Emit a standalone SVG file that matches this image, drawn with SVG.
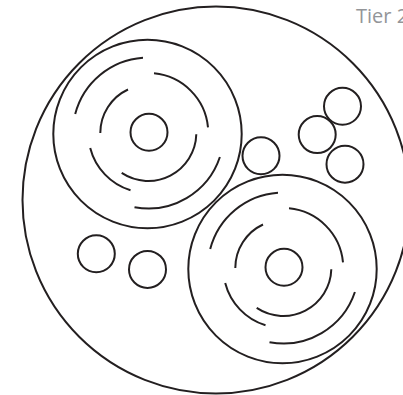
<svg xmlns="http://www.w3.org/2000/svg" xmlns:xlink="http://www.w3.org/1999/xlink" width="403" height="395" viewBox="0 0 403 395">
<style>
.c{fill:none;stroke:#231f20;stroke-width:2}
.a{fill:none;stroke:#231f20;stroke-width:2;stroke-linecap:butt}
.lbl{font-family:"Open Sans","Liberation Sans",sans-serif;font-size:20px;fill:#939598}
</style>
<defs>
<g id="cluster">
<circle class="c" cx="147.5" cy="134" r="94.2"/>
<circle class="c" cx="149" cy="132.3" r="18.5"/>
<path class="a" d="M100.3,133 A48,48 0 0 1 128,89.5"/>
<path class="a" d="M196.3,134.3 A48,48 0 0 1 121.7,172.9"/>
<path class="a" d="M154,73.3 A60,60 0 0 1 208,127.3"/>
<path class="a" d="M130.5,190.3 A60,60 0 0 1 90.2,148"/>
<path class="a" d="M75.2,114.1 A75.5,75.5 0 0 1 143,57.7"/>
<path class="a" d="M219.9,157 A75.5,75.5 0 0 1 134.5,207.2"/>
</g>
</defs>
<g id="tier2">
<circle class="c" cx="216" cy="200" r="193.5"/>
<text class="lbl" x="356" y="22.5">Tier 2</text>
</g>
<g id="cluster1"><use xlink:href="#cluster" href="#cluster"/></g>
<g id="cluster2" transform="translate(135,135)"><use xlink:href="#cluster" href="#cluster"/></g>
<g id="n1"><circle class="c" cx="261" cy="155.8" r="18.5"/></g>
<g id="n2"><circle class="c" cx="317.2" cy="134.6" r="18.5"/></g>
<g id="n3"><circle class="c" cx="342.5" cy="106.3" r="18.5"/></g>
<g id="n4"><circle class="c" cx="345" cy="164.2" r="18.5"/></g>
<g id="n5"><circle class="c" cx="96.3" cy="253.8" r="18.5"/></g>
<g id="n6"><circle class="c" cx="147.5" cy="269.4" r="18.5"/></g>
<g id="connectors"></g>
</svg>
